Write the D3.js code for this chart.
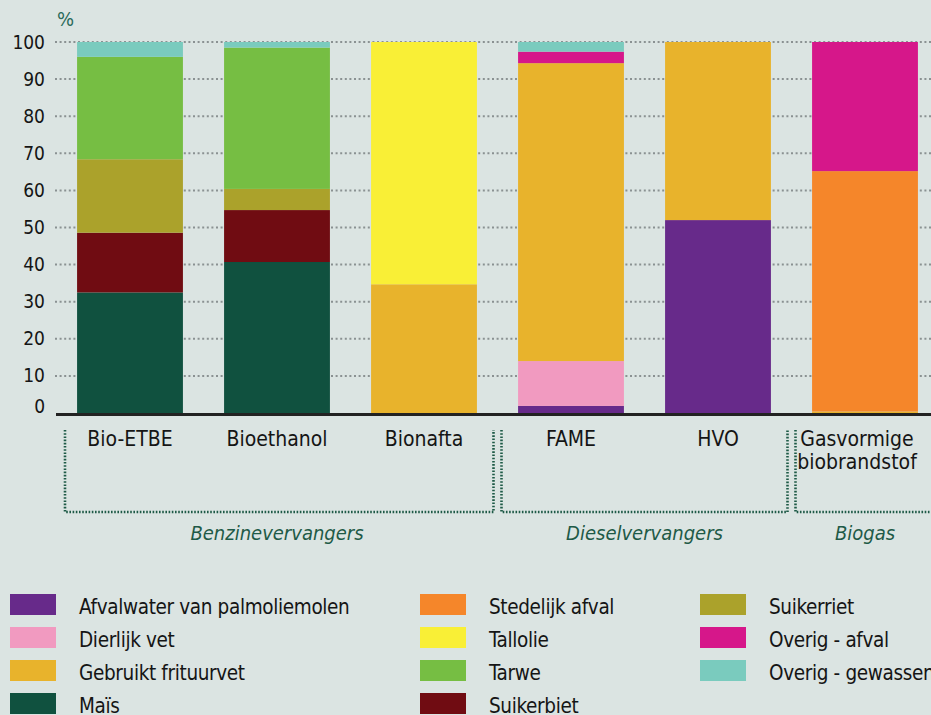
<!DOCTYPE html>
<html>
<head>
<meta charset="utf-8">
<script src="https://cdn.jsdelivr.net/npm/d3@7"></script>
<style>
  body { margin: 0; background: #dbe4e2; }
  svg { display: block; }
  text { font-family: "DejaVu Sans Condensed", "Liberation Sans Narrow", "Roboto", sans-serif; }
</style>
</head>
<body>
<svg id="chart" width="931" height="715"></svg>
<script>
// categories (x axis)
const categories = ['Bio-ETBE', 'Bioethanol', 'Bionafta', 'FAME', 'HVO', 'Gasvormige biobrandstof'];
const groups = [
  { name: 'Benzinevervangers', from: 0, to: 2 },
  { name: 'Dieselvervangers', from: 3, to: 4 },
  { name: 'Biogas', from: 5, to: 5 }
];
const yTicks = [0, 10, 20, 30, 40, 50, 60, 70, 80, 90, 100];

// share per feedstock (%), one value per category, stacked bottom to top
const afvalwater = [0, 0, 0, 1.9, 52.0, 0];
const dierlijkVet = [0, 0, 0, 12.1, 0, 0];
const frituurvet = [0, 0, 34.7, 80.3, 48.0, 0.4];
const mais = [32.5, 40.7, 0, 0, 0, 0];
const suikerbiet = [16.1, 14.0, 0, 0, 0, 0];
const suikerriet = [19.8, 5.7, 0, 0, 0, 0];
const tarwe = [27.6, 38.1, 0, 0, 0, 0];
const stedelijkAfval = [0, 0, 0, 0, 0, 64.8];
const tallolie = [0, 0, 65.3, 0, 0, 0];
const overigAfval = [0, 0, 0, 3.1, 0, 34.8];
const overigGewassen = [4.0, 1.5, 0, 2.6, 0, 0];

const series = [
  { key: 'Afvalwater van palmoliemolen', values: afvalwater, color: '#672a8a' },
  { key: 'Dierlijk vet', values: dierlijkVet, color: '#f19ac0' },
  { key: 'Gebruikt frituurvet', values: frituurvet, color: '#e8b32c' },
  { key: 'Maïs', values: mais, color: '#10513f' },
  { key: 'Suikerbiet', values: suikerbiet, color: '#700c12' },
  { key: 'Suikerriet', values: suikerriet, color: '#aba22b' },
  { key: 'Tarwe', values: tarwe, color: '#76be43' },
  { key: 'Stedelijk afval', values: stedelijkAfval, color: '#f5862a' },
  { key: 'Tallolie', values: tallolie, color: '#f9ef36' },
  { key: 'Overig - afval', values: overigAfval, color: '#d6178a' },
  { key: 'Overig - gewassen', values: overigGewassen, color: '#7acbbe' }
];
// legend columns, in reading order
const legendColumns = [
  ['Afvalwater van palmoliemolen', 'Dierlijk vet', 'Gebruikt frituurvet', 'Maïs'],
  ['Stedelijk afval', 'Tallolie', 'Tarwe', 'Suikerbiet'],
  ['Suikerriet', 'Overig - afval', 'Overig - gewassen']
];

const svg = d3.select('#chart');
const color = d3.scaleOrdinal(series.map(s => s.key), series.map(s => s.color));

const x = d3.scaleBand()
  .domain(categories)
  .range([56.5, 938.5])
  .paddingInner(0.28)
  .paddingOuter(0.14);
const y = d3.scaleLinear()
  .domain([0, 100])
  .range([413, 42]);

const table = categories.map((c, i) => {
  const row = { category: c };
  series.forEach(s => { row[s.key] = s.values[i]; });
  return row;
});
const stacked = d3.stack().keys(series.map(s => s.key))(table);

// dotted grid
svg.append('g')
  .selectAll('line')
  .data(yTicks.filter(d => d > 0))
  .enter().append('line')
  .attr('x1', 55).attr('x2', 931)
  .attr('y1', d => y(d)).attr('y2', d => y(d))
  .attr('stroke', '#8a9192')
  .attr('stroke-width', 2)
  .attr('stroke-dasharray', '2 2.6');

// bars
svg.append('g')
  .selectAll('g')
  .data(stacked)
  .enter().append('g')
  .attr('fill', d => color(d.key))
  .selectAll('rect')
  .data(d => d.filter(p => p[1] - p[0] > 0))
  .enter().append('rect')
  .attr('x', d => x(d.data.category))
  .attr('width', x.bandwidth())
  .attr('y', d => y(d[1]))
  .attr('height', d => y(d[0]) - y(d[1]));

// baseline
svg.append('line')
  .attr('x1', 56).attr('x2', 931)
  .attr('y1', y(0) + 1.5).attr('y2', y(0) + 1.5)
  .attr('stroke', '#222')
  .attr('stroke-width', 3);

// y axis labels
const yAxis = svg.append('g')
  .attr('transform', 'translate(45,0)')
  .call(d3.axisLeft(y).tickValues(yTicks).tickSize(0).tickPadding(0));
yAxis.select('.domain').remove();
yAxis.selectAll('text')
  .attr('font-size', 19)
  .attr('fill', '#151515')
  .attr('font-family', '"DejaVu Sans Condensed", sans-serif');
yAxis.selectAll('.tick').filter(d => d === 0).select('text').attr('dy', '-0.05em');

svg.append('text')
  .attr('x', 57).attr('y', 26)
  .attr('font-size', 20)
  .attr('fill', '#2b6b5a')
  .text('%');

// category labels
const catLabels = svg.append('g')
  .selectAll('text')
  .data(categories)
  .enter().append('text')
  .attr('x', d => x(d) + x.bandwidth() / 2 - (d.length > 12 ? 8 : 0))
  .attr('y', 446)
  .attr('text-anchor', 'middle')
  .attr('font-size', 21)
  .attr('fill', '#151515');
catLabels.each(function (d) {
  const words = d.length > 12 ? d.split(' ') : [d];
  d3.select(this).selectAll('tspan')
    .data(words)
    .enter().append('tspan')
    .attr('x', d3.select(this).attr('x'))
    .attr('dy', (w, i) => i === 0 ? 0 : 23)
    .text(w => w);
});

// group brackets
const bracketY = 512;
groups.forEach((g, i) => {
  const left = i === 0 ? 65 : (x(categories[g.from]) + x(categories[g.from - 1]) + x.bandwidth()) / 2 + 4;
  const right = g.to === categories.length - 1 ? 940
    : (x(categories[g.to]) + x.bandwidth() + x(categories[g.to + 1])) / 2 - 4;
  const path = d3.path();
  path.moveTo(left, 430);
  path.lineTo(left, bracketY);
  path.lineTo(right, bracketY);
  path.lineTo(right, 430);
  svg.append('path')
    .attr('d', path.toString())
    .attr('fill', 'none')
    .attr('stroke', '#1e5a47')
    .attr('stroke-width', 2.6)
    .attr('stroke-dasharray', '1.6 1.6');
  svg.append('text')
    .attr('x', (x(categories[g.from]) + x(categories[g.to]) + x.bandwidth()) / 2)
    .attr('y', 540)
    .attr('text-anchor', 'middle')
    .attr('font-size', 20)
    .attr('font-style', 'italic')
    .attr('fill', '#1e5a47')
    .text(g.name);
});

// legend
const colX = [10, 420, 700];
legendColumns.forEach((col, ci) => {
  const lg = svg.append('g').attr('transform', `translate(${colX[ci]},594)`);
  const item = lg.selectAll('g')
    .data(col)
    .enter().append('g')
    .attr('transform', (d, i) => `translate(0,${i * 33})`);
  item.append('rect')
    .attr('width', 46).attr('height', 21)
    .attr('fill', d => color(d));
  item.append('text')
    .attr('x', 69).attr('y', 20)
    .attr('font-size', 20.5)
    .attr('letter-spacing', -0.35)
    .attr('fill', '#151515')
    .text(d => d);
});
</script>
</body>
</html>
